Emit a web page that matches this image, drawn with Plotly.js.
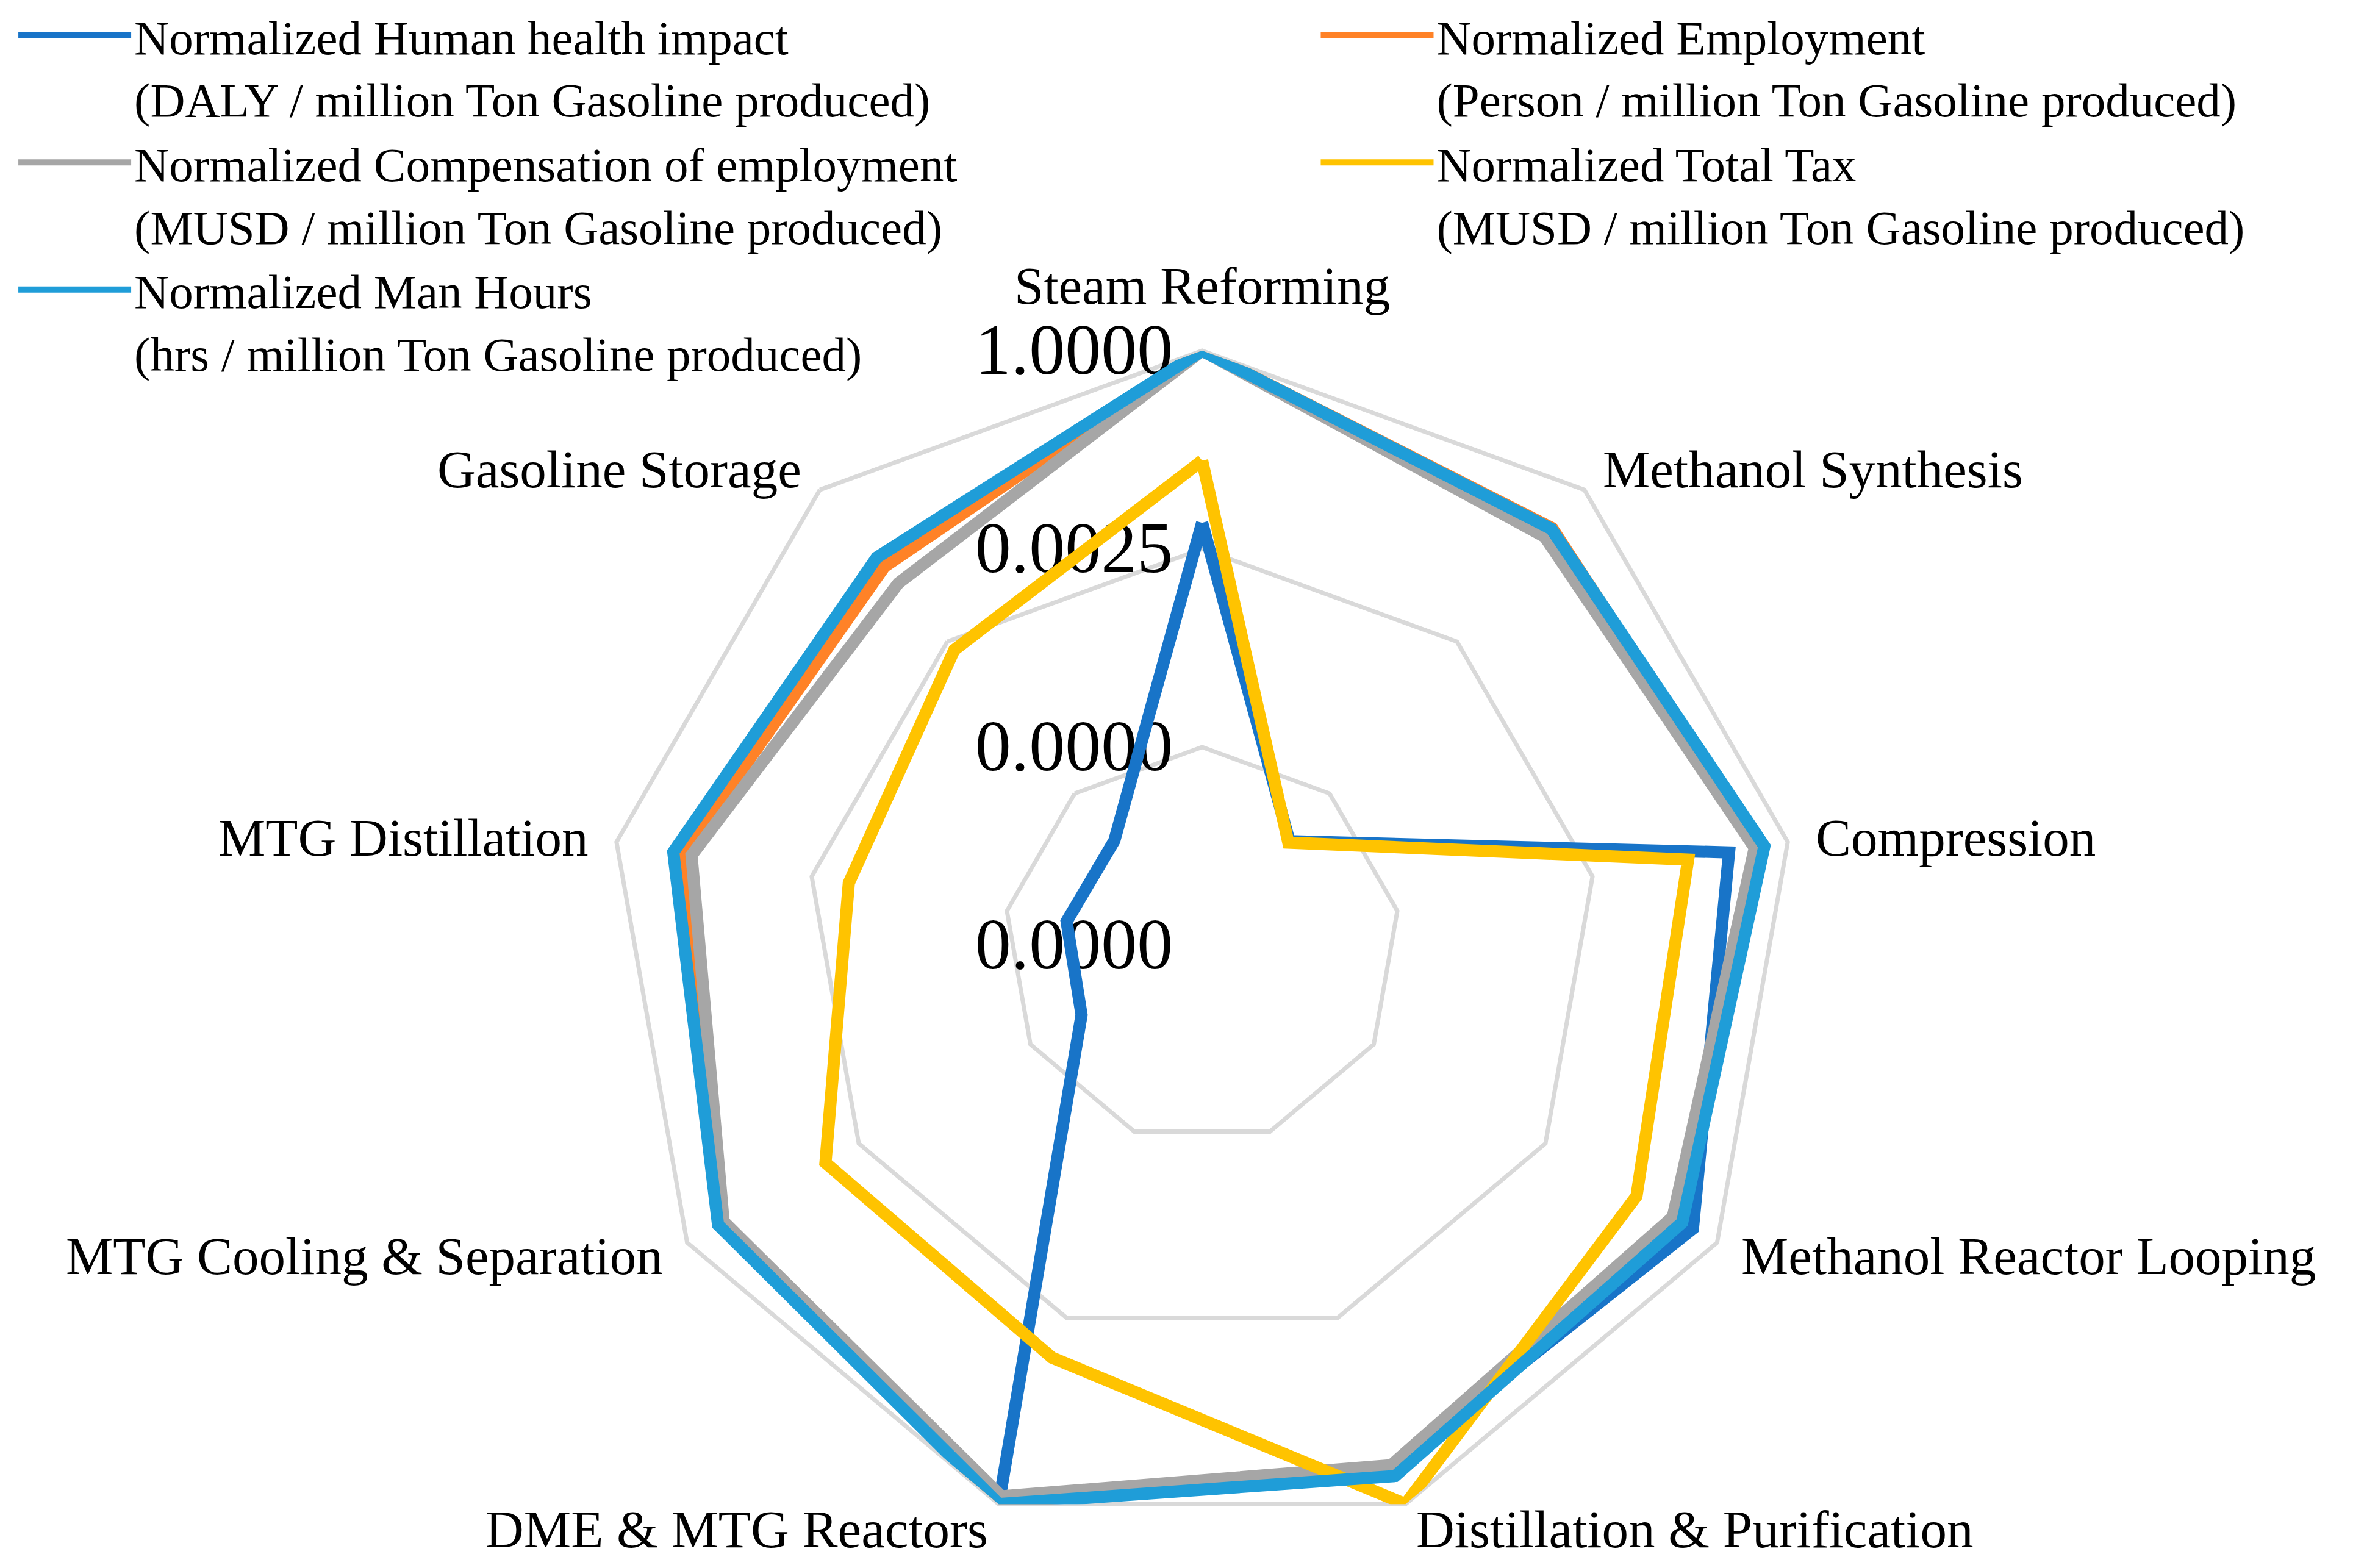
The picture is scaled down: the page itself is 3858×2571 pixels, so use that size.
<!DOCTYPE html>
<html><head><meta charset="utf-8">
<script src="https://cdn.plot.ly/plotly-3.0.1.min.js"></script>
<style>html,body{margin:0;padding:0;background:#fff}#chart{width:3858px;height:2571px}</style>
</head><body><div id="chart"></div>
<script>
const categories = ['Steam Reforming','Methanol Synthesis','Compression','Methanol Reactor Looping','Distillation & Purification','DME & MTG Reactors','MTG Cooling & Separation','MTG Distillation','Gasoline Storage'];

const humanHealth  = [0.0055, 0.95e-6, 0.165, 0.43, 0.30, 1.0, 1.05e-6, 1.0e-6, 0.97e-6];
const employment   = [1.0, 0.22, 0.43, 0.26, 0.35, 0.95, 0.32, 0.13, 0.048];
const compensation = [1.0, 0.156, 0.363, 0.213, 0.286, 0.78, 0.28, 0.10, 0.025];
const totalTax     = [0.036, 0.9e-6, 0.047, 0.06, 1.0, 0.009, 0.008, 0.0008, 0.0018];
const manHours     = [1.0, 0.213, 0.488, 0.296, 0.405, 1.0, 0.34, 0.175, 0.069];

const seriesNames = [
  'Normalized Human health impact<br>(DALY / million Ton Gasoline produced)',
  'Normalized Employment<br>(Person / million Ton Gasoline produced)',
  'Normalized Compensation of employment<br>(MUSD / million Ton Gasoline produced)',
  'Normalized Total Tax<br>(MUSD / million Ton Gasoline produced)',
  'Normalized Man Hours<br>(hrs / million Ton Gasoline produced)'
];
const seriesValues = [humanHealth, employment, compensation, totalTax, manHours];
const seriesColors = ['#1874C8', '#FF8227', '#A6A6A6', '#FFC300', '#1F9DD8'];
const seriesLegend = ['legend', 'legend2', 'legend', 'legend2', 'legend'];

const radialTickVals = [Math.pow(400,-3), Math.pow(400,-2), Math.pow(400,-1), 1];
const radialTickText = ['0.0000', '0.0000', '0.0025', '1.0000'];

const FONT = 'Liberation Serif, Times New Roman, serif';

const traces = seriesValues.map((vals, i) => ({
  type: 'scatterpolar',
  mode: 'lines',
  name: seriesNames[i],
  r: vals.concat([vals[0]]),
  theta: categories.concat([categories[0]]),
  line: {color: seriesColors[i], width: 20},
  legend: seriesLegend[i],
  hoverinfo: 'skip'
}));

const W = 3858, H = 2571;
const cx = 1971, cy = 1550, R = 975;

// Category labels placed just outside each vertex of the polar frame (Excel-like placement)
const labelGap = 44;
const annotations = categories.map((name, i) => {
  const th = (90 - i * 360 / categories.length) * Math.PI / 180;
  const c = Math.cos(th), s = Math.sin(th);
  const vx = cx + R * c, vy = cy - R * s;
  let px = vx + labelGap * c, py = vy - labelGap * s;
  let xanchor = c > 0.01 ? 'left' : (c < -0.01 ? 'right' : 'center');
  let yanchor = 'middle';
  if (xanchor === 'center') { yanchor = s > 0 ? 'bottom' : 'top'; py += (s > 0 ? -12 : 12); }
  return {
    xref: 'paper', yref: 'paper', x: px / W, y: 1 - py / H,
    xanchor: xanchor, yanchor: yanchor, showarrow: false, text: name,
    font: {family: FONT, size: 87, color: '#000'}
  };
});

const legendCommon = {
  yanchor: 'top', xanchor: 'left',
  font: {family: FONT, size: 79, color: '#000'},
  itemwidth: 185, valign: 'top', bgcolor: 'rgba(0,0,0,0)',
  tracegroupgap: 0, itemclick: false, itemdoubleclick: false
};

const layout = {
  width: W, height: H,
  margin: {l: 0, r: 0, t: 0, b: 0},
  paper_bgcolor: '#ffffff',
  showlegend: true,
  annotations: annotations,
  polar: {
    domain: {x: [(cx - R) / W, (cx + R) / W], y: [(H - cy - R) / H, (H - cy + R) / H]},
    bgcolor: 'rgba(0,0,0,0)',
    gridshape: 'linear',
    radialaxis: {
      type: 'log',
      range: [Math.log10(Math.pow(400,-3)), 0],
      autorange: false,
      tickvals: radialTickVals,
      ticktext: radialTickText,
      angle: 90,
      side: 'counterclockwise',
      tickangle: 90,
      showline: false,
      ticks: 'outside',
      ticklen: 6,
      tickcolor: 'rgba(0,0,0,0)',
      gridcolor: '#D9D9D9',
      gridwidth: 7,
      tickfont: {family: FONT, size: 118, color: '#000'},
      layer: 'below traces'
    },
    angularaxis: {
      type: 'category',
      categoryarray: categories,
      rotation: 90,
      direction: 'clockwise',
      showgrid: false,
      showline: true,
      linecolor: '#D9D9D9',
      linewidth: 7,
      ticks: '',
      showticklabels: false,
      layer: 'below traces'
    }
  },
  legend: Object.assign({x: 0.0065, y: 1.0}, legendCommon),
  legend2: Object.assign({x: 0.5600, y: 1.0}, legendCommon)
};

Plotly.newPlot('chart', traces, layout, {displayModeBar: false, staticPlot: true});
</script>
</body></html>
